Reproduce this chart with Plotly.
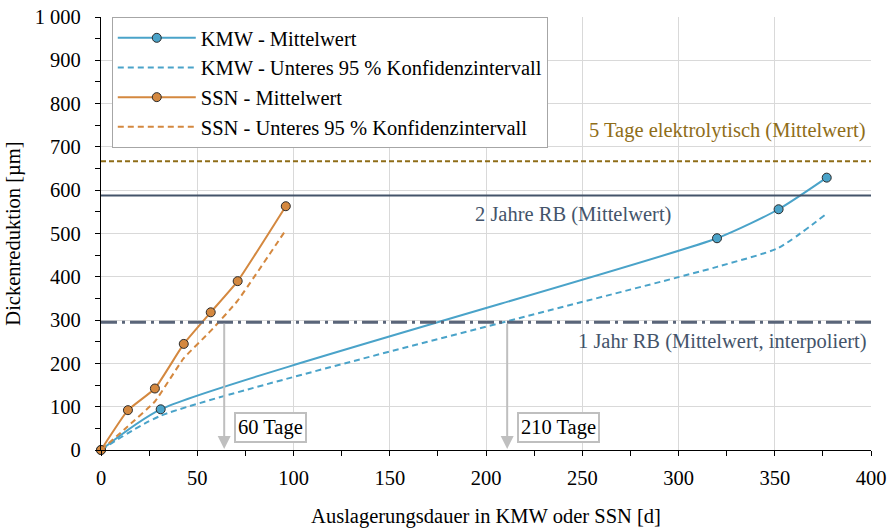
import plotly.graph_objects as go

# Exposure time [d] and thickness reduction [µm]
kmw_days = [0, 31, 320, 352, 377]
kmw_mean = [0, 94, 489, 556, 629]
kmw_ci_low = [0, 79, 423, 467, 546]

ssn_days = [0, 14, 28, 43, 57, 71, 96]
ssn_mean = [0, 92, 142, 245, 318, 390, 563]
ssn_ci_low = [0, 55, 112, 212, 275, 345, 508]

# Reference levels [µm]
ref_labels = ["5 Tage elektrolytisch (Mittelwert)", "2 Jahre RB (Mittelwert)",
              "1 Jahr RB (Mittelwert, interpoliert)"]
ref_levels = [667, 588, 295]

# Where the lower confidence bounds reach the 1-year level
cross_days = [64, 211]
cross_labels = ["60 Tage", "210 Tage"]

BLUE = "#4AA3C9"
ORANGE = "#D4883F"
GOLD = "#8F6D18"
SLATE = "#44546A"
SLATE2 = "#5A6579"
GREY = "#BFBFBF"
FONT = "'Liberation Serif', serif"
FS = 20.5

fig = go.Figure()
marker_line = dict(color="#2B2B2B", width=1)

fig.add_trace(go.Scatter(
    x=kmw_days, y=kmw_mean, name="KMW - Mittelwert", mode="lines+markers",
    line=dict(color=BLUE, width=2, shape="spline", smoothing=0.6),
    marker=dict(color=BLUE, size=9, line=marker_line), cliponaxis=False))
fig.add_trace(go.Scatter(
    x=kmw_days, y=kmw_ci_low, name="KMW - Unteres 95 % Konfidenzintervall", mode="lines",
    line=dict(color=BLUE, width=2, dash="6px,4px", shape="spline", smoothing=0.6),
    cliponaxis=False))
fig.add_trace(go.Scatter(
    x=ssn_days, y=ssn_mean, name="SSN - Mittelwert", mode="lines+markers",
    line=dict(color=ORANGE, width=2, shape="spline", smoothing=0.4),
    marker=dict(color=ORANGE, size=9, line=marker_line), cliponaxis=False))
fig.add_trace(go.Scatter(
    x=ssn_days, y=ssn_ci_low, name="SSN - Unteres 95 % Konfidenzintervall", mode="lines",
    line=dict(color=ORANGE, width=2, dash="6px,4px", shape="spline", smoothing=0.4),
    cliponaxis=False))

# Horizontal reference levels
ref_styles = [dict(color=GOLD, width=2, dash="5px,3px"),
              dict(color=SLATE, width=2),
              dict(color=SLATE2, width=3, dash="16px,5px,3px,5px")]
for lvl, st in zip(ref_levels, ref_styles):
    fig.add_shape(type="line", xref="x", yref="y", x0=0, x1=400, y0=lvl, y1=lvl,
                  line=st, layer="above")

fig.add_annotation(x=400, y=ref_levels[0], xref="x", yref="y", text=ref_labels[0],
                   showarrow=False, xanchor="right", yanchor="bottom", yshift=17, xshift=-3,
                   font=dict(family=FONT, size=FS, color=GOLD))
fig.add_annotation(x=245, y=ref_levels[1], xref="x", yref="y", text=ref_labels[1],
                   showarrow=False, xanchor="center", yanchor="top", yshift=-6,
                   font=dict(family=FONT, size=FS, color=SLATE))
fig.add_annotation(x=400, y=ref_levels[2], xref="x", yref="y", text=ref_labels[2],
                   showarrow=False, xanchor="right", yanchor="top", yshift=-6, xshift=-2,
                   font=dict(family=FONT, size=FS, color=SLATE))

# Arrows from the 1-year level down to the time axis, with boxed labels
for d, lab in zip(cross_days, cross_labels):
    fig.add_annotation(x=d, y=0, xref="x", yref="y", ax=d, ay=ref_levels[2],
                       axref="x", ayref="y", text="", showarrow=True, arrowhead=2,
                       arrowsize=1.3, arrowwidth=2, arrowcolor=GREY, standoff=1)
    fig.add_annotation(x=d, y=51, xref="x", yref="y", text=lab, showarrow=False,
                       xanchor="left", xshift=10, bgcolor="white", bordercolor=GREY,
                       borderwidth=2, borderpad=2,
                       font=dict(family=FONT, size=FS, color="black"))

axis_common = dict(showline=True, linecolor="black", linewidth=1.3, mirror=False,
                   showgrid=True, gridcolor="#D9D9D9", gridwidth=1, zeroline=False,
                   ticks="outside", ticklen=5, tickcolor="black", tickwidth=1.3,
                   automargin=False,
                   tickfont=dict(family=FONT, size=FS, color="black"))

fig.update_layout(
    width=888, height=530,
    margin=dict(l=101, r=17, t=17, b=80),
    paper_bgcolor="white", plot_bgcolor="white",
    separators=", ",
    font=dict(family=FONT, size=FS, color="black"),
    showlegend=True,
    legend=dict(x=0.014, y=1.0, xanchor="left", yanchor="top",
                bgcolor="white", bordercolor="#A6A6A6", borderwidth=1,
                font=dict(family=FONT, size=FS, color="black"),
                itemwidth=78, tracegroupgap=0),
    xaxis=dict(range=[0, 400], dtick=50, tick0=0, ticklabelstandoff=4,
               minor=dict(dtick=25, ticks="outside", ticklen=5, tickcolor="black", showgrid=False),
               title=dict(text="Auslagerungsdauer in KMW oder SSN [d]", standoff=20,
                          font=dict(family=FONT, size=FS)),
               **axis_common),
    yaxis=dict(range=[0, 1000], dtick=100, tick0=0, separatethousands=True,
               ticklabelstandoff=10,
               minor=dict(dtick=50, ticks="outside", ticklen=5, tickcolor="black", showgrid=False),
               title=dict(text="Dickenreduktion [µm]", standoff=8,
                          font=dict(family=FONT, size=FS)),
               **axis_common),
)

fig.write_html("out.html")
